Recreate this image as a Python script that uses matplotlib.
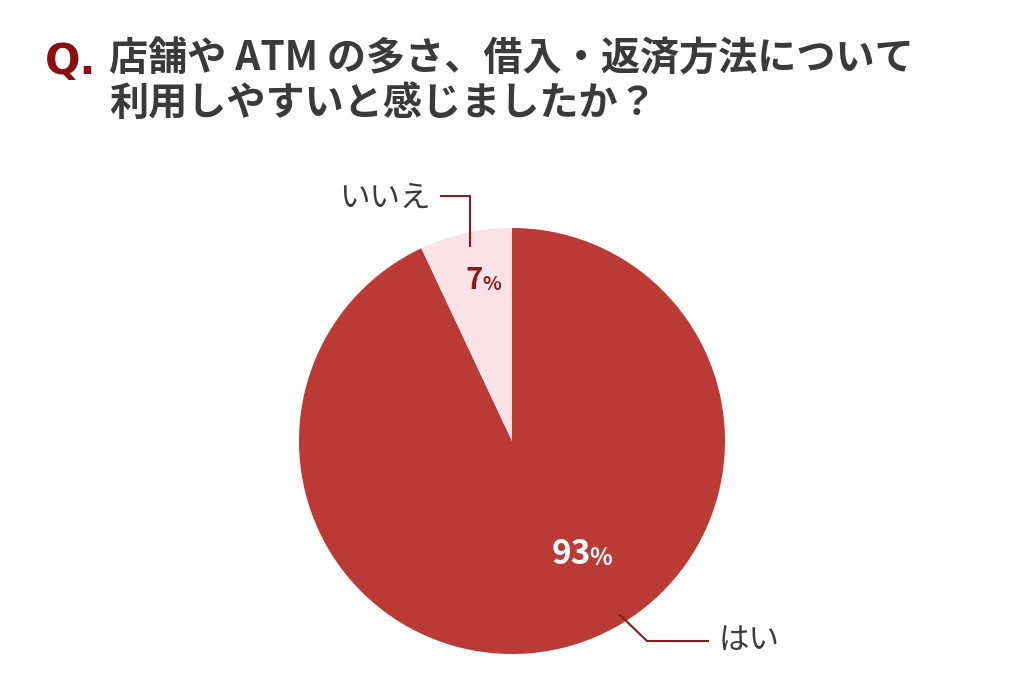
import matplotlib
matplotlib.use('Agg')
import matplotlib.pyplot as plt

plt.rcParams['font.family'] = ['Noto Sans CJK JP', 'DejaVu Sans']

# データ
labels = ['はい', 'いいえ']
values = [93, 7]
colors = ['#BC3A35', '#F9E3E7']
title_lines = ['店舗や ATM の多さ、借入・返済方法について', '利用しやすいと感じましたか？']

W, H = 1024, 691
fig = plt.figure(figsize=(W / 100, H / 100), dpi=100)

# タイトル
fig.text(45 / W, 1 - 62 / H, 'Q.', color='#8B0D0D', fontsize=30, fontweight='heavy',
         va='center', ha='left', family=['DejaVu Sans'])
fig.text(109 / W, 1 - 59 / H, title_lines[0], color='#3A3A3A', fontsize=28.2,
         fontweight='bold', va='center', ha='left')
fig.text(109 / W, 1 - 103 / H, title_lines[1], color='#3A3A3A', fontsize=28.2,
         fontweight='bold', va='center', ha='left')

# 円グラフ
cx, cy, r = 512, 441, 213
ax = fig.add_axes([(cx - r) / W, (H - cy - r) / H, 2 * r / W, 2 * r / H])
ax.pie(values, colors=colors, startangle=90, counterclock=False, radius=1,
       wedgeprops=dict(linewidth=0))
ax.set_xlim(-1, 1)
ax.set_ylim(-1, 1)
ax.set_aspect('equal')
ax.axis('off')

def px(x, y):
    return ((x - cx) / r, (cy - y) / r)

# パーセント表示
ax.text(*px(483, 280), f'{values[1]}', color='#8B1A1A', fontsize=21, fontweight='bold',
        ha='right', va='center')
ax.text(*px(482, 284), '%', color='#8B1A1A', fontsize=14, fontweight='bold',
        ha='left', va='center')
ax.text(*px(591, 554), f'{values[0]}', color='white', fontsize=24, fontweight='bold',
        ha='right', va='center')
ax.text(*px(589, 558), '%', color='white', fontsize=17, fontweight='bold',
        ha='left', va='center')

# 引き出し線
line_c = '#8B1A1A'
xs, ys = zip(*[px(441, 196), px(470, 196), px(470, 246)])
ax.plot(xs, ys, color=line_c, lw=1.5, clip_on=False)
xs, ys = zip(*[px(620, 615), px(647, 641), px(708, 641)])
ax.plot(xs, ys, color=line_c, lw=1.5, clip_on=False)

# ラベル
ax.text(*px(431, 198), labels[1], color='#3A3A3A', fontsize=22, ha='right', va='center')
ax.text(*px(718, 640), labels[0], color='#3A3A3A', fontsize=22, ha='left', va='center')

fig.savefig('out.png', dpi=100, facecolor='white')
